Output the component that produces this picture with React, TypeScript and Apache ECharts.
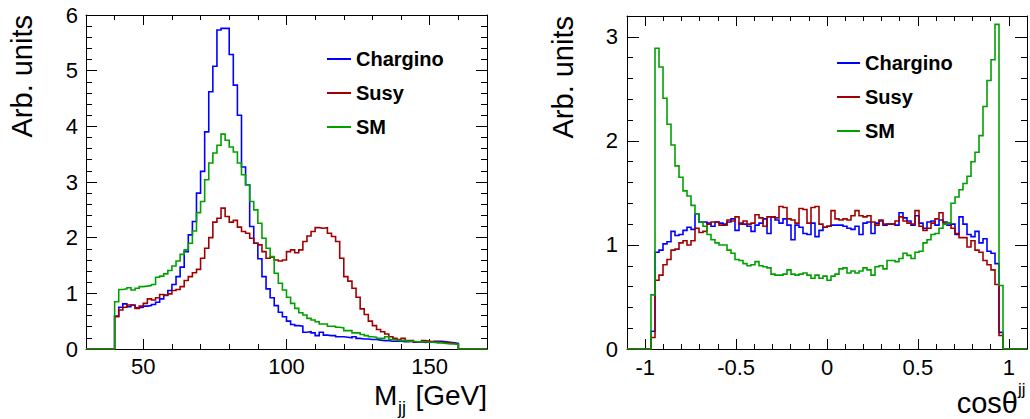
import React, { useEffect, useRef } from "react";
import * as echarts from "echarts";

// ---------- Data: M_jj histogram (84 bins of 10/7 GeV from 40 to 160) ----------
const MJJ_BIN_START = 40;
const MJJ_BIN_WIDTH = 10 / 7;
const mjjChargino = [
  0.59, 0.75, 0.81, 0.76, 0.79, 0.74, 0.75, 0.77, 0.78, 0.8,
  0.84, 0.9, 0.97, 1.05, 1.16, 1.3, 1.47, 1.75, 2.05, 2.29,
  2.8, 3.19, 3.9, 4.62, 5.08, 5.73, 5.76, 5.76, 5.29, 4.74,
  4.2, 3.27, 2.95, 2.2, 1.9, 1.62, 1.3, 1.08, 0.92, 0.78,
  0.66, 0.58, 0.5, 0.44, 0.42, 0.41, 0.3, 0.31, 0.29, 0.24,
  0.3, 0.25, 0.24, 0.24, 0.22, 0.22, 0.21, 0.2, 0.22, 0.19,
  0.18, 0.18, 0.17, 0.17, 0.16, 0.15, 0.15, 0.14, 0.14, 0.14,
  0.13, 0.13, 0.14, 0.12, 0.13, 0.12, 0.13, 0.12, 0.14, 0.14,
  0.13, 0.12, 0.11, 0.1,
];
const mjjSusy = [
  0.58, 0.7, 0.75, 0.79, 0.78, 0.73, 0.77, 0.82, 0.9, 0.88,
  0.92, 0.98, 0.96, 0.99, 1.05, 1.07, 1.12, 1.23, 1.3, 1.37,
  1.43, 1.63, 1.81, 2.0, 2.28, 2.35, 2.53, 2.38, 2.28, 2.31,
  2.19, 2.11, 2.08, 1.99, 1.9, 1.87, 1.75, 1.63, 1.65, 1.6,
  1.58, 1.6, 1.75, 1.78, 1.73, 1.78, 1.93, 2.03, 2.11, 2.18,
  2.17, 2.18, 2.08, 2.02, 1.93, 1.63, 1.3, 1.22, 1.09, 0.93,
  0.72, 0.62, 0.5, 0.42, 0.35, 0.31, 0.27, 0.22, 0.19, 0.17,
  0.19, 0.15, 0.15, 0.13, 0.13, 0.15, 0.14, 0.13, 0.13, 0.12,
  0.11, 0.11, 0.1, 0.09,
];
const mjjSM = [
  0.85, 1.07, 1.08, 1.1, 1.06, 1.09, 1.12, 1.13, 1.14, 1.16,
  1.29, 1.31, 1.35, 1.41, 1.49, 1.58, 1.7, 1.78, 1.9, 2.12,
  2.45, 2.65, 3.04, 3.34, 3.52, 3.66, 3.86, 3.75, 3.63, 3.54,
  3.34, 3.13, 2.95, 2.65, 2.5, 2.26, 1.99, 1.81, 1.66, 1.36,
  1.18, 1.06, 0.93, 0.82, 0.73, 0.65, 0.61, 0.55, 0.52, 0.49,
  0.45, 0.45, 0.41, 0.41, 0.39, 0.38, 0.33, 0.33, 0.29, 0.29,
  0.26, 0.24, 0.22, 0.21, 0.19, 0.19, 0.22, 0.17, 0.16, 0.15,
  0.15, 0.14, 0.14, 0.13, 0.13, 0.13, 0.12, 0.12, 0.11, 0.11,
  0.1, 0.09, 0.09, 0.08,
];

// ---------- Data: cos theta_jj histogram (88 bins of 0.022 from -0.968 to 0.968) ----------
const COS_BIN_START = -0.968;
const COS_BIN_WIDTH = 0.022;
const cosChargino = [
  0.17, 0.93, 0.95, 1.01, 1.03, 1.13, 1.09, 1.1, 1.14, 1.17,
  1.15, 1.3, 1.22, 1.22, 1.21, 1.18, 1.22, 1.21, 1.2, 1.22,
  1.25, 1.14, 1.21, 1.2, 1.18, 1.13, 1.19, 1.21, 1.25, 1.11,
  1.27, 1.24, 1.21, 1.25, 1.19, 1.05, 1.19, 1.17, 1.11, 1.1,
  1.21, 1.08, 1.14, 1.17, 1.18, 1.19, 1.19, 1.19, 1.18, 1.16,
  1.15, 1.18, 1.1, 1.21, 1.22, 1.11, 1.21, 1.23, 1.19, 1.2,
  1.2, 1.19, 1.31, 1.26, 1.23, 1.19, 1.28, 1.21, 1.16, 1.22,
  1.23, 1.19, 1.24, 1.22, 1.19, 1.2, 1.1, 1.27, 1.2, 1.1,
  1.08, 1.13, 1.02, 1.06, 0.94, 0.92, 0.82, 0.16,
];
const cosSusy = [
  0.11, 0.66, 0.71, 0.81, 0.86, 0.95, 0.96, 1.02, 1.04, 1.0,
  1.04, 1.16, 1.12, 1.13, 1.2, 1.22, 1.22, 1.19, 1.19, 1.24,
  1.23, 1.27, 1.2, 1.23, 1.2, 1.21, 1.29, 1.26, 1.18, 1.27,
  1.27, 1.26, 1.37, 1.36, 1.25, 1.24, 1.21, 1.35, 1.34, 1.21,
  1.36, 1.37, 1.2, 1.17, 1.18, 1.33, 1.25, 1.24, 1.25, 1.24,
  1.28, 1.33, 1.28, 1.27, 1.28, 1.22, 1.19, 1.24, 1.2, 1.2,
  1.2, 1.23, 1.27, 1.23, 1.21, 1.2, 1.33, 1.18, 1.14, 1.16,
  1.21, 1.25, 1.31, 1.21, 1.21, 1.16, 1.11, 1.07, 1.07, 0.98,
  1.04, 0.95, 0.93, 0.85, 0.81, 0.76, 0.62, 0.13,
];
const cosSM = [
  0.52, 2.89, 2.71, 2.41, 2.16, 1.96, 1.76, 1.65, 1.52, 1.47,
  1.38, 1.3, 1.22, 1.18, 1.1, 1.05, 1.02, 1.0, 1.0, 0.95,
  0.92, 0.86, 0.85, 0.82, 0.8, 0.81, 0.84, 0.8, 0.79, 0.78,
  0.72, 0.71, 0.71, 0.72, 0.76, 0.72, 0.71, 0.72, 0.73, 0.71,
  0.68, 0.71, 0.68, 0.7, 0.66, 0.7, 0.72, 0.77, 0.78, 0.73,
  0.75, 0.73, 0.75, 0.78, 0.76, 0.71, 0.79, 0.8, 0.77, 0.85,
  0.85, 0.84, 0.87, 0.92, 0.9, 0.87, 0.93, 0.94, 1.02, 1.05,
  1.1, 1.11, 1.16, 1.2, 1.21, 1.4, 1.46, 1.53, 1.59, 1.66,
  1.8, 1.89, 2.05, 2.33, 2.58, 2.78, 3.12, 0.61,
];

const seriesNames = ["Chargino", "Susy", "SM"];
const seriesColors = ["#0000ff", "#a00000", "#00a000"];

// ---------- Axis ranges and ticks ----------
const mjjXRange = [30, 170];
const mjjYRange = [0, 6];
const mjjXMajor = [50, 100, 150];
const mjjXMinor = [40, 60, 70, 80, 90, 110, 120, 130, 140, 160];
const mjjYMajor = [0, 1, 2, 3, 4, 5, 6];
const mjjYMinor = [
  0.2, 0.4, 0.6, 0.8, 1.2, 1.4, 1.6, 1.8, 2.2, 2.4, 2.6, 2.8, 3.2, 3.4, 3.6,
  3.8, 4.2, 4.4, 4.6, 4.8, 5.2, 5.4, 5.6, 5.8,
];
const cosXRange = [-1.1, 1.1];
const cosYRange = [0, 3.2];
const cosXMajor = [-1, -0.5, 0, 0.5, 1];
const cosXMinor = [
  -0.9, -0.8, -0.7, -0.6, -0.4, -0.3, -0.2, -0.1, 0.1, 0.2, 0.3, 0.4, 0.6,
  0.7, 0.8, 0.9,
];
const cosYMajor = [0, 1, 2, 3];
const cosYMinor = [
  0.2, 0.4, 0.6, 0.8, 1.2, 1.4, 1.6, 1.8, 2.2, 2.4, 2.6, 2.8,
];

const FONT = "'Liberation Sans', Arial, Helvetica, sans-serif";

function histPoints(start: number, width: number, values: number[], range: number[]) {
  const pts: number[][] = [[range[0], 0]];
  values.forEach((v, i) => pts.push([start + i * width, v]));
  pts.push([start + values.length * width, 0]);
  pts.push([range[1], 0]);
  return pts;
}

function makeAxes(
  dim: "x" | "y",
  gridIndex: number,
  range: number[],
  major: number[],
  minor: number[],
  majorLen: number,
  minorLen: number,
  labelMargin: number
) {
  const sides = dim === "x" ? ["bottom", "top"] : ["left", "right"];
  const axes: any[] = [];
  sides.forEach((pos, si) => {
    [true, false].forEach((isMajor) => {
      axes.push({
        type: "value",
        gridIndex,
        position: pos,
        min: range[0],
        max: range[1],
        splitLine: { show: false },
        axisLine: {
          show: isMajor,
          onZero: false,
          lineStyle: { color: "#000", width: 1 },
        },
        axisTick: {
          show: true,
          inside: true,
          length: isMajor ? majorLen : minorLen,
          customValues: isMajor ? major : minor,
          lineStyle: { color: "#000", width: 1 },
        },
        axisLabel: {
          show: isMajor && si === 0,
          customValues: major,
          margin: labelMargin,
          fontSize: 22,
          lineHeight: 18,
          color: "#000",
          fontFamily: FONT,
          formatter: (v: number) => String(v),
        },
      });
    });
  });
  return axes;
}

export default function App() {
  const ref = useRef<HTMLDivElement>(null);

  useEffect(() => {
    if (!ref.current) return;
    const chart = echarts.init(ref.current, undefined, { renderer: "svg" });

    const mjjData = [mjjChargino, mjjSusy, mjjSM];
    const cosData = [cosChargino, cosSusy, cosSM];

    const series: any[] = [];
    mjjData.forEach((vals, i) => {
      series.push({
        type: "line",
        name: seriesNames[i],
        xAxisIndex: 0,
        yAxisIndex: 0,
        data: histPoints(MJJ_BIN_START, MJJ_BIN_WIDTH, vals, mjjXRange),
        step: "end",
        symbol: "none",
        showSymbol: false,
        clip: true,
        silent: true,
        lineStyle: { color: seriesColors[i], width: 1.6, join: "miter" },
        itemStyle: { color: seriesColors[i] },
      });
    });
    cosData.forEach((vals, i) => {
      series.push({
        type: "line",
        name: seriesNames[i],
        xAxisIndex: 4,
        yAxisIndex: 4,
        data: histPoints(COS_BIN_START, COS_BIN_WIDTH, vals, cosXRange),
        step: "end",
        symbol: "none",
        showSymbol: false,
        clip: true,
        silent: true,
        lineStyle: { color: seriesColors[i], width: 1.6, join: "miter" },
        itemStyle: { color: seriesColors[i] },
      });
    });

    const legendCommon = {
      data: seriesNames,
      orient: "vertical",
      icon: "rect",
      itemHeight: 2,
      itemGap: 14,
      selectedMode: false,
      textStyle: {
        fontSize: 20,
        fontWeight: "bold",
        fontFamily: FONT,
        color: "#000",
        lineHeight: 20,
      },
    };

    const titleStyle = { fontSize: 29, fontFamily: FONT, fill: "#000", lineHeight: 24 };

    chart.setOption({
      animation: false,
      backgroundColor: "#fff",
      grid: [
        { left: 86, top: 15, width: 401, height: 334, containLabel: false },
        { left: 627, top: 16, width: 400, height: 333, containLabel: false },
      ],
      xAxis: [
        ...makeAxes("x", 0, mjjXRange, mjjXMajor, mjjXMinor, 10, 5, 8),
        ...makeAxes("x", 1, cosXRange, cosXMajor, cosXMinor, 10, 5, 9),
      ],
      yAxis: [
        ...makeAxes("y", 0, mjjYRange, mjjYMajor, mjjYMinor, 11, 6, 8),
        ...makeAxes("y", 1, cosYRange, cosYMajor, cosYMinor, 12, 6, 9),
      ],
      legend: [
        { ...legendCommon, left: 322, top: 44, itemWidth: 24 },
        { ...legendCommon, left: 832, top: 48, itemWidth: 23 },
      ],
      series,
      graphic: [
        {
          type: "text",
          x: 22,
          y: 15,
          rotation: Math.PI / 2,
          style: { ...titleStyle, text: "Arb. units", textAlign: "right", textVerticalAlign: "middle" },
        },
        {
          type: "text",
          x: 563,
          y: 16,
          rotation: Math.PI / 2,
          style: { ...titleStyle, text: "Arb. units", textAlign: "right", textVerticalAlign: "middle" },
        },
        {
          type: "text",
          x: 374,
          y: 395,
          style: { ...titleStyle, fontSize: 28, text: "M", textAlign: "left", textVerticalAlign: "middle" },
        },
        {
          type: "text",
          x: 398,
          y: 408,
          style: { ...titleStyle, fontSize: 18, lineHeight: 16, text: "jj", textAlign: "left", textVerticalAlign: "middle" },
        },
        {
          type: "text",
          x: 487,
          y: 395,
          style: { ...titleStyle, fontSize: 28, text: "[GeV]", textAlign: "right", textVerticalAlign: "middle" },
        },
        {
          type: "text",
          x: 1018,
          y: 403,
          style: { ...titleStyle, text: "cosθ", textAlign: "right", textVerticalAlign: "middle" },
        },
        {
          type: "text",
          x: 1018,
          y: 389,
          style: { ...titleStyle, fontSize: 17, lineHeight: 15, text: "jj", textAlign: "left", textVerticalAlign: "middle" },
        },
      ],
    });

    return () => chart.dispose();
  }, []);

  return (
    <div
      ref={ref}
      style={{ position: "absolute", left: 0, top: 0, width: 1030, height: 419 }}
    />
  );
}
